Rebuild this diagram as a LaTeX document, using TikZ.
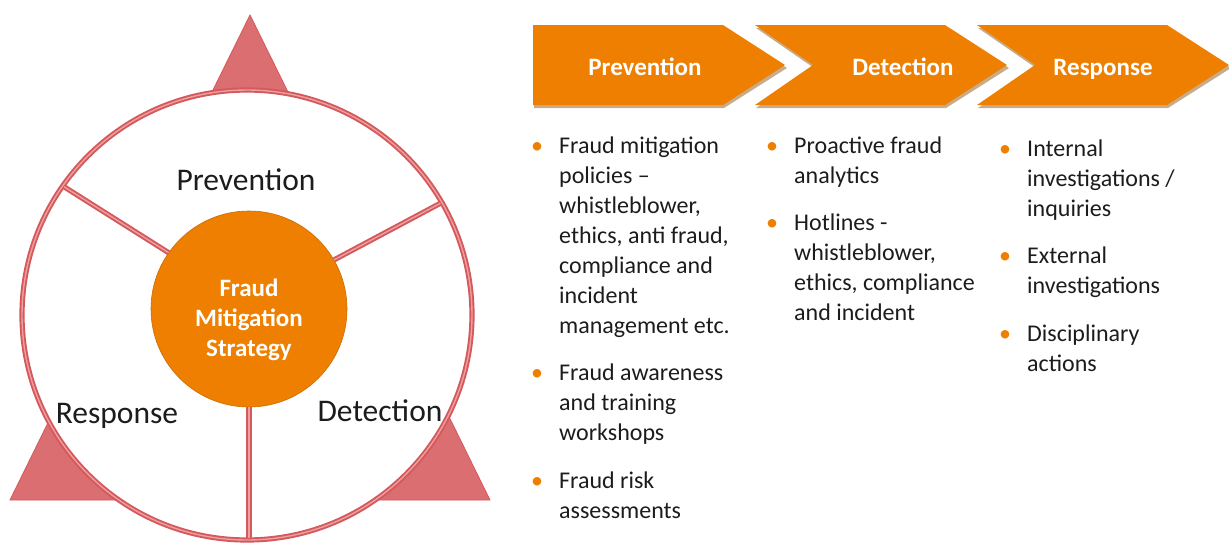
\documentclass[tikz,border=0pt]{standalone}
\usepackage{fontspec}
\setmainfont{Carlito}
\usetikzlibrary{positioning}
\definecolor{fmorange}{RGB}{238,127,0}
\definecolor{ringred}{RGB}{212,88,92}
\definecolor{ringpink}{RGB}{236,160,160}
\definecolor{trired}{RGB}{219,110,112}
\definecolor{inkgray}{RGB}{28,28,28}
\newcommand{\fmdot}{\makebox[28pt][l]{\textcolor{fmorange}{\textbullet}}}
\tikzset{
  ring line/.style={draw=ringred,double=ringpink,double distance=1.4pt,line width=1.9pt},
  corner tri/.style={fill=trired,draw=ringred,line width=0.8pt},
  chevron/.style={fill=fmorange},
  chevron shadow/.style={fill=fmorange!55!black,opacity=0.45},
  chevron label/.style={text=white,anchor=base,font=\fontsize{25}{28}\selectfont\bfseries},
  wheel label/.style={text=inkgray,anchor=base,font=\fontsize{31.5}{34}\selectfont},
  item/.style={anchor=north west,inner sep=0pt,text=inkgray,font=\fontsize{24}{30}\selectfont}
}

\begin{document}
\begin{tikzpicture}[x=1pt,y=-1pt]
\useasboundingbox (0,0) rectangle (1229,544);

% triangles behind the wheel
\draw[corner tri] (212,92) -- (250,15) -- (288,92) -- cycle;
\draw[corner tri] (10,500) -- (70,378) -- (130,500) -- cycle;
\draw[corner tri] (370,500) -- (430,378) -- (490,500) -- cycle;

% wheel
\node[circle,minimum size=450pt,inner sep=0pt,fill=white,ring line] (wheel) at (247,315) {};
\node[circle,minimum size=196pt,inner sep=0pt,fill=fmorange,draw=fmorange!85!black,line width=0.6pt] (core) at (249,309) {};
\node[text=white,align=center,font=\fontsize{25}{30}\selectfont\bfseries] (corelbl) at (249,320) {Fraud\\Mitigation\\Strategy};
\draw[ring line,shorten >=2.6pt] (core.145) -- (wheel.145);
\draw[ring line,shorten >=2.6pt] (core.30) -- (wheel.30);
\draw[ring line,shorten >=2.6pt] (core.south) -- (core.south |- wheel.south);

\node[wheel label] (wprev) at (246,190) {Prevention};
\node[wheel label] (wresp) at (117,423) {Response};
\node[wheel label] (wdet) at (380,421) {Detection};

% chevrons
\fill[chevron shadow] (534,28) -- (724,28) -- (787,68) -- (724,108) -- (534,108) -- cycle;
\fill[chevron shadow] (756,28) -- (946,28) -- (1009,68) -- (946,108) -- (756,108) -- (814,68) -- cycle;
\fill[chevron shadow] (978,28) -- (1168,28) -- (1231,68) -- (1168,108) -- (978,108) -- (1036,68) -- cycle;
\fill[chevron] (533,25) -- (723,25) -- (785,65) -- (723,105) -- (533,105) -- cycle;
\fill[chevron] (755,25) -- (945,25) -- (1007,65) -- (945,105) -- (755,105) -- (813,65) -- cycle;
\fill[chevron] (977,25) -- (1167,25) -- (1229,65) -- (1167,105) -- (977,105) -- (1035,65) -- cycle;
\node[chevron label] (cprev) at (645,75) {Prevention};
\node[chevron label] (cdet) at (903,75) {Detection};
\node[chevron label] (cresp) at (1103,75) {Response};

% lists
\node[item] (p1) at (531,132) {\begin{tabular}{@{}l@{}l@{}}\fmdot&Fraud mitigation\\&policies –\\&whistleblower,\\&ethics, anti fraud,\\&compliance and\\&incident\\&management etc.\end{tabular}};
\node[item,below right=17pt and 0pt of p1.south west] (p2) {\begin{tabular}{@{}l@{}l@{}}\fmdot&Fraud awareness\\&and training\\&workshops\end{tabular}};
\node[item,below right=17pt and 0pt of p2.south west] (p3) {\begin{tabular}{@{}l@{}l@{}}\fmdot&Fraud risk\\&assessments\end{tabular}};

\node[item] (d1) at (766,132) {\begin{tabular}{@{}l@{}l@{}}\fmdot&Proactive fraud\\&analytics\end{tabular}};
\node[item,below right=17pt and 0pt of d1.south west] (d2) {\begin{tabular}{@{}l@{}l@{}}\fmdot&Hotlines -\\&whistleblower,\\&ethics, compliance\\&and incident\end{tabular}};

\node[item] (r1) at (999,135) {\begin{tabular}{@{}l@{}l@{}}\fmdot&Internal\\&investigations /\\&inquiries\end{tabular}};
\node[item,below right=17pt and 0pt of r1.south west] (r2) {\begin{tabular}{@{}l@{}l@{}}\fmdot&External\\&investigations\end{tabular}};
\node[item,below right=17pt and 0pt of r2.south west] (r3) {\begin{tabular}{@{}l@{}l@{}}\fmdot&Disciplinary\\&actions\end{tabular}};
\end{tikzpicture}
\end{document}
